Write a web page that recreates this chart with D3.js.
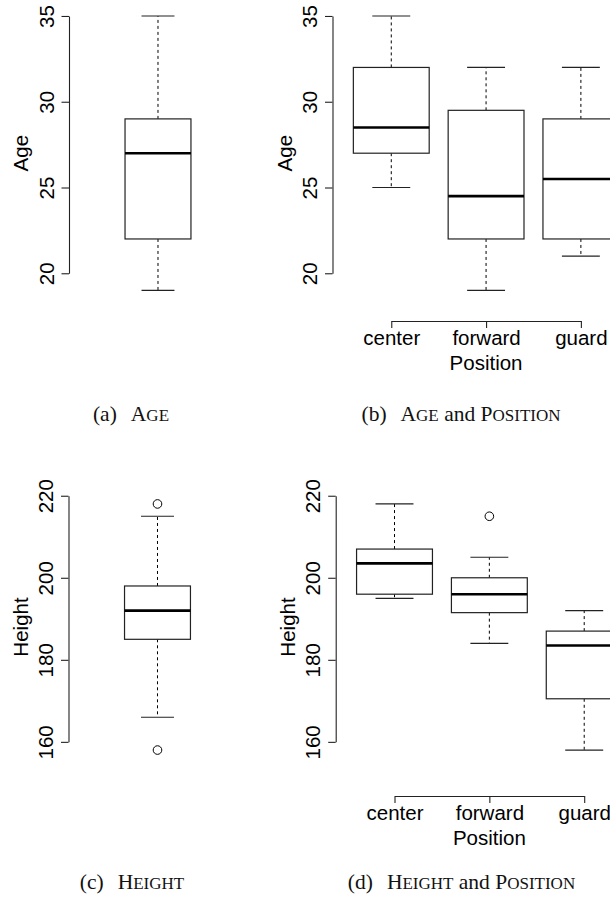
<!DOCTYPE html>
<html>
<head>
<meta charset="utf-8">
<script src="https://cdn.jsdelivr.net/npm/d3@7"></script>
<style>
  body { margin: 0; background: #fff; }
  svg { display: block; }
</style>
</head>
<body>
<div id="chart"></div>
<script>
// box stats are [lower whisker, Q1, median, Q3, upper whisker]
const positions = ["center", "forward", "guard"];
const ageTicks = [20, 25, 30, 35];
const heightTicks = [160, 180, 200, 220];

const ageAll = [19, 22, 27, 29, 35];
const ageAllOutliers = [];
const ageByPosition = [
    [25, 27, 28.5, 32, 35],
    [19, 22, 24.5, 29.5, 32],
    [21, 22, 25.5, 29, 32]
];
const ageByPositionOutliers = [[], [], []];

const heightAll = [166, 185, 192, 198, 215];
const heightAllOutliers = [158, 218];
const heightByPosition = [
    [195, 196, 203.5, 207, 218],
    [184, 191.5, 196, 200, 205],
    [158, 170.5, 183.5, 187, 192]
];
const heightByPositionOutliers = [[], [215], []];

const svg = d3.select("#chart")
    .append("svg")
    .attr("width", 610)
    .attr("height", 902);

svg.append("rect").attr("width", 610).attr("height", 902).attr("fill", "#fff");

const sans = "'Liberation Sans', Arial, Helvetica, sans-serif";
const serif = "'Liberation Serif', 'Times New Roman', serif";

function drawPanel(opt) {
    const g = svg.append("g");
    const n = opt.stats.length;
    // R style: xlim 0.5..n+0.5 widened by 4%
    const pad = n * 0.04;
    const x = d3.scaleLinear()
        .domain([0.5 - pad, n + 0.5 + pad])
        .range([opt.left, opt.left + opt.unit * (n + 2 * pad)]);
    const lo = d3.min(opt.stats.flat().concat(opt.outliers.flat()));
    const hi = d3.max(opt.stats.flat().concat(opt.outliers.flat()));
    const ypad = (hi - lo) * 0.04;
    const y = d3.scaleLinear()
        .domain([lo - ypad, hi + ypad])
        .range([opt.bottom, opt.top]);

    // y axis, only between first and last tick like R
    const t0 = opt.ticks[0], t1 = opt.ticks[opt.ticks.length - 1];
    const yAxisScale = y.copy().domain([t0, t1]).range([y(t0), y(t1)]);
    const yAxis = g.append("g")
        .attr("transform", `translate(${opt.left},0)`)
        .call(d3.axisLeft(yAxisScale).tickValues(opt.ticks).tickSize(7.5).tickSizeOuter(0));
    yAxis.selectAll("path, line").attr("stroke", "#222").attr("stroke-width", 1.1);
    yAxis.selectAll("text")
        .attr("transform", "rotate(-90)")
        .attr("x", 0)
        .attr("y", -15.5)
        .attr("dy", 0)
        .attr("text-anchor", "middle")
        .attr("fill", "#000")
        .style("font-family", sans)
        .style("font-size", "20.5px");

    g.append("text")
        .attr("transform", `translate(${opt.left - 41},${(opt.top + opt.bottom) / 2}) rotate(-90)`)
        .attr("text-anchor", "middle")
        .style("font-family", sans)
        .style("font-size", "20.5px")
        .text(opt.ylabel);

    const bw = opt.boxWidth;
    opt.stats.forEach((s, i) => {
        const cx = i + 1;
        const box = g.append("g");
        // whiskers
        box.append("line")
            .attr("x1", x(cx)).attr("x2", x(cx))
            .attr("y1", y(s[3])).attr("y2", y(s[4]))
            .attr("stroke", "#000").attr("stroke-dasharray", "3,3");
        box.append("line")
            .attr("x1", x(cx)).attr("x2", x(cx))
            .attr("y1", y(s[1])).attr("y2", y(s[0]))
            .attr("stroke", "#000").attr("stroke-dasharray", "3,3");
        // staples
        [s[0], s[4]].forEach(v => {
            box.append("line")
                .attr("x1", x(cx - bw / 4)).attr("x2", x(cx + bw / 4))
                .attr("y1", y(v)).attr("y2", y(v))
                .attr("stroke", "#222").attr("stroke-width", 1.2);
        });
        box.append("rect")
            .attr("x", x(cx - bw / 2))
            .attr("y", y(s[3]))
            .attr("width", x(cx + bw / 2) - x(cx - bw / 2))
            .attr("height", y(s[1]) - y(s[3]))
            .attr("fill", "#fff")
            .attr("stroke", "#222")
            .attr("stroke-width", 1.2);
        box.append("line")
            .attr("x1", x(cx - bw / 2)).attr("x2", x(cx + bw / 2))
            .attr("y1", y(s[2])).attr("y2", y(s[2]))
            .attr("stroke", "#000").attr("stroke-width", 2.6);
        box.selectAll("circle.out")
            .data(opt.outliers[i])
            .enter()
            .append("circle")
            .attr("class", "out")
            .attr("cx", x(cx))
            .attr("cy", d => y(d))
            .attr("r", 4.3)
            .attr("fill", "none")
            .attr("stroke", "#000")
            .attr("stroke-width", 1);
    });

    if (opt.categories) {
        const xAxisScale = x.copy().domain([1, n]).range([x(1), x(n)]);
        const xAxis = g.append("g")
            .attr("transform", `translate(0,${opt.xAxisY})`)
            .call(d3.axisBottom(xAxisScale)
                .tickValues(d3.range(1, n + 1))
                .tickFormat(d => opt.categories[d - 1])
                .tickSize(7)
                .tickSizeOuter(0));
        xAxis.selectAll("path, line").attr("stroke", "#222").attr("stroke-width", 1.1);
        xAxis.selectAll("text")
            .attr("y", 23.5)
            .attr("dy", 0)
            .attr("fill", "#000")
            .style("font-family", sans)
            .style("font-size", "20.5px");
        g.append("text")
            .attr("x", (x.range()[0] + x.range()[1]) / 2)
            .attr("y", opt.xAxisY + 49)
            .attr("text-anchor", "middle")
            .style("font-family", sans)
            .style("font-size", "20.5px")
            .text(opt.xlabel);
    }
}

function caption(cx, by, letter, parts) {
    const t = svg.append("text")
        .attr("x", cx)
        .attr("y", by)
        .attr("text-anchor", "middle")
        .style("font-family", serif)
        .style("font-size", "21.5px")
        .attr("fill", "#111");
    t.append("tspan").text(`(${letter})`);
    parts.forEach((p, i) => {
        // small caps drawn by hand: first letter full size, rest smaller
        const sp = t.append("tspan").attr("dx", i === 0 ? 14 : 0);
        if (p.sc) {
            sp.text((i === 0 ? "" : " ") + p.text[0]);
            t.append("tspan").style("font-size", "17px").text(p.text.slice(1).toUpperCase());
        } else {
            sp.text(" " + p.text);
        }
    });
}

drawPanel({
    stats: [ageAll], outliers: [ageAllOutliers], ticks: ageTicks, ylabel: "Age",
    left: 69, unit: 164.8, top: 5, bottom: 301.4, boxWidth: 0.4
});
drawPanel({
    stats: ageByPosition, outliers: ageByPositionOutliers, ticks: ageTicks, ylabel: "Age",
    left: 332.5, unit: 94.8, top: 5, bottom: 301.4, boxWidth: 0.8,
    categories: positions, xlabel: "Position", xAxisY: 321
});
drawPanel({
    stats: [heightAll], outliers: [heightAllOutliers], ticks: heightTicks, ylabel: "Height",
    left: 68.5, unit: 164.8, top: 494.1, bottom: 759.9, boxWidth: 0.4
});
drawPanel({
    stats: heightByPosition, outliers: heightByPositionOutliers, ticks: heightTicks, ylabel: "Height",
    left: 335.7, unit: 94.85, top: 494.1, bottom: 759.9, boxWidth: 0.8,
    categories: positions, xlabel: "Position", xAxisY: 796
});

caption(131, 421, "a", [{ text: "Age", sc: true }]);
caption(461, 421, "b", [{ text: "Age", sc: true }, { text: "and", sc: false }, { text: "Position", sc: true }]);
caption(132, 889, "c", [{ text: "Height", sc: true }]);
caption(461.5, 889, "d", [{ text: "Height", sc: true }, { text: "and", sc: false }, { text: "Position", sc: true }]);
</script>
</body>
</html>
